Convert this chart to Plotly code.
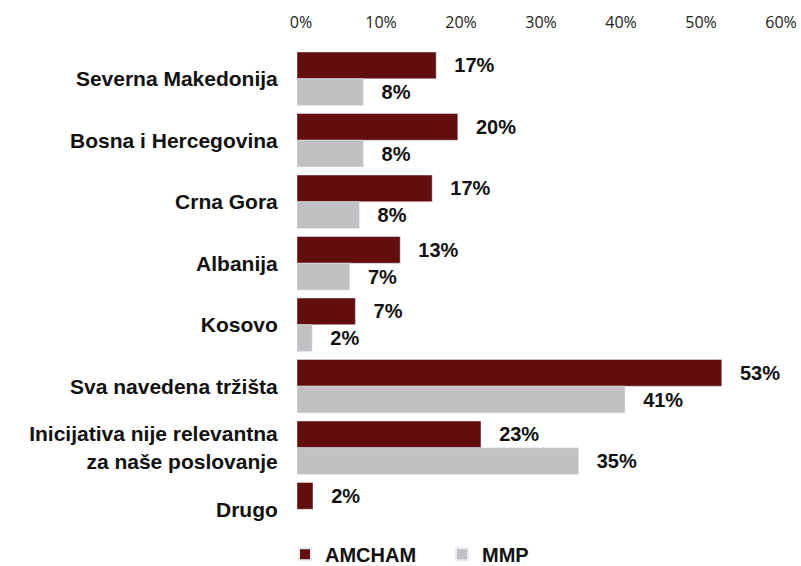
import plotly.graph_objects as go

categories = [
    "Severna Makedonija",
    "Bosna i Hercegovina",
    "Crna Gora",
    "Albanija",
    "Kosovo",
    "Sva navedena tržišta",
    "Inicijativa nije relevantna<br>za naše poslovanje",
    "Drugo",
]
amcham = [17.4, 20.1, 16.9, 12.9, 7.3, 53.1, 23.0, 2.0]
mmp = [8.3, 8.3, 7.8, 6.6, 1.9, 41.0, 35.2, None]
tick_vals = [0, 10, 20, 30, 40, 50, 60]
tick_text = ["0%", "10%", "20%", "30%", "40%", "50%", "60%"]

pad = "\u00a0\u00a0\u2009"
arial = "Liberation Sans, Arial, sans-serif"
label_font = dict(family=arial, size=20, color="#111111")

fig = go.Figure()
fig.add_trace(go.Bar(
    name="<b>AMCHAM</b>", y=categories, x=amcham, orientation="h",
    marker=dict(color="#620e0e"),
    texttemplate=pad + "<b>%{x:.0f}%</b>", textposition="outside",
    textfont=label_font, cliponaxis=False,
))
fig.add_trace(go.Bar(
    name="<b>MMP</b>", y=categories, x=mmp, orientation="h",
    marker=dict(color="#c1c1c3"),
    texttemplate=pad + "<b>%{x:.0f}%</b>", textposition="outside",
    textfont=label_font, cliponaxis=False,
))

fig.update_layout(
    width=801, height=566,
    barmode="group", bargap=0.13, bargroupgap=0,
    plot_bgcolor="white", paper_bgcolor="white",
    margin=dict(l=297, r=24, t=48, b=26, autoexpand=False),
    showlegend=True,
    legend=dict(
        orientation="h", x=-0.025, xanchor="left", y=-0.029, yanchor="middle",
        font=dict(family=arial, size=20, color="#111111"),
        traceorder="normal", entrywidth=112, itemsizing="constant",
    ),
    xaxis=dict(
        side="top", range=[0, 60], tickvals=tick_vals, ticktext=tick_text,
        showgrid=False, zeroline=False, showline=False,
        ticks="outside", ticklen=13, tickcolor="rgba(0,0,0,0)",
        tickfont=dict(family="Open Sans, sans-serif", size=16, color="#222222"),
        ticklabelshift=4,
    ),
    yaxis=dict(
        autorange="reversed", showgrid=False, zeroline=False, showline=False,
        ticks="outside", ticklen=14, tickcolor="rgba(0,0,0,0)",
        tickmode="array", tickvals=categories,
        ticktext=["<b>" + c + "</b>" for c in categories],
        tickfont=dict(family=arial, size=21, color="#111111"),
    ),
)

fig.write_html(
    "out.html",
    config={"displayModeBar": False},
    post_script="document.body.style.margin='0';document.body.style.overflow='hidden';",
)
